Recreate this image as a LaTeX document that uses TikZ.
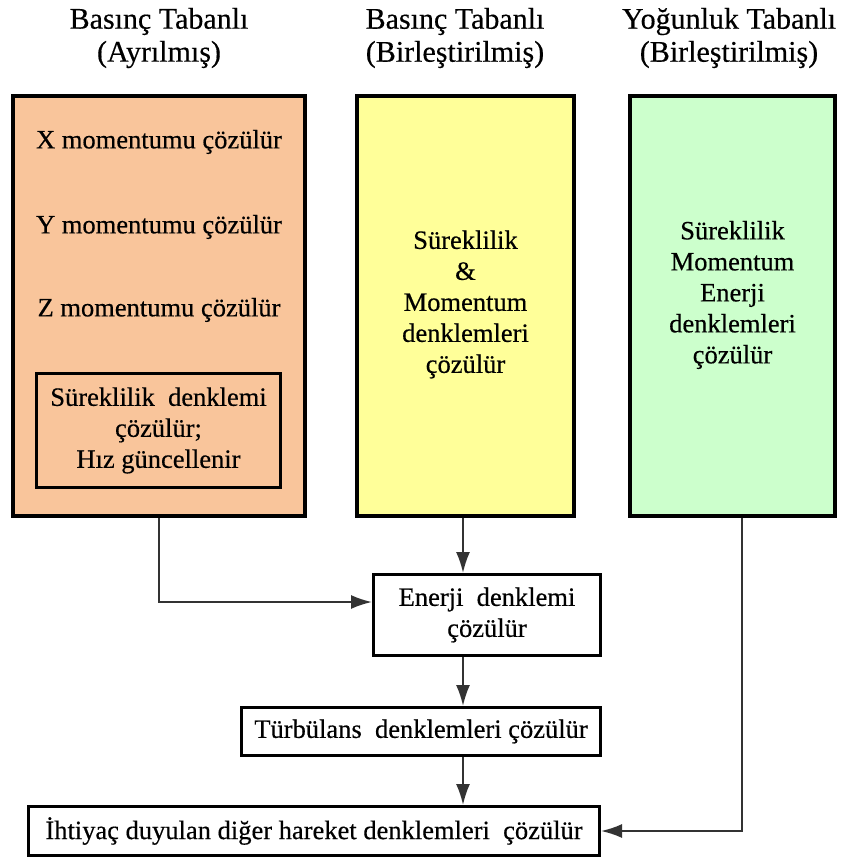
\documentclass[tikz,border=0pt]{standalone}
\usepackage{fontspec}
\setmainfont{Liberation Serif}
\newfontfamily\timesfam[FakeBold=0.4]{Liberation Serif}
\usetikzlibrary{arrows.meta}
\definecolor{peach}{HTML}{F9C59B}
\definecolor{paleyellow}{HTML}{FFFF99}
\definecolor{palegreen}{HTML}{CCFFCC}
\definecolor{linegray}{HTML}{333333}
\newcommand\bodyfnt{\timesfam\fontsize{26.5}{31}\selectfont}
\newcommand\titlefnt{\timesfam\fontsize{30}{33}\selectfont}
\tikzset{
  bigbox/.style={draw=black, line width=4.5pt, inner sep=0pt},
  smallbox/.style={draw=black, line width=3pt, fill=white, inner sep=0pt, align=center, font=\bodyfnt},
  txt/.style={align=center, inner sep=0pt, font=\bodyfnt},
  ttl/.style={align=center, inner sep=0pt, font=\titlefnt},
  conn/.style={draw=linegray, line width=2pt},
  arr/.style={conn, -{Latex[length=21pt,width=14pt]}},
}
\begin{document}
\begin{tikzpicture}[x=1pt,y=-1pt]
\useasboundingbox (0,0) rectangle (841,862);
% titles
\node[ttl] (t1) at (159,38) {Basınç Tabanlı\\(Ayrılmış)};
\node[ttl] (t2) at (455,38) {Basınç Tabanlı\\(Birleştirilmiş)};
\node[ttl] (t3) at (729,38) {Yoğunluk Tabanlı\\(Birleştirilmiş)};
% big boxes
\node[bigbox, fill=peach, minimum width=292pt, minimum height=420pt] (left) at (159,306) {};
\node[bigbox, fill=paleyellow, minimum width=217pt, minimum height=420pt] (mid) at (465.5,306) {};
\node[bigbox, fill=palegreen, minimum width=205pt, minimum height=420pt] (right) at (732.5,306) {};
% left box contents
\node[txt] (xm) at (159,142) {X momentumu çözülür};
\node[txt] (ym) at (159,227) {Y momentumu çözülür};
\node[txt] (zm) at (159,310) {Z momentumu çözülür};
\node[smallbox, fill=none, minimum width=244pt, minimum height=114pt] (cont) at (158.5,430.5)
  {Süreklilik\ \ denklemi\\çözülür;\\Hız güncellenir};
% middle and right contents
\node[txt] (midtxt) at (465.5,304.5) {Süreklilik\\\&\\Momentum\\denklemleri\\çözülür};
\node[txt] (righttxt) at (732.5,295) {Süreklilik\\Momentum\\Enerji\\denklemleri\\çözülür};
% lower boxes
\node[smallbox, minimum width=227pt, minimum height=81pt] (energy) at (487,615)
  {Enerji\ \ denklemi\\çözülür};
\node[smallbox, minimum width=359pt, minimum height=48pt] (turb) at (421,731.5)
  {Türbülans\ \ denklemleri\ çözülür};
\node[smallbox, minimum width=571pt, minimum height=49pt] (bottom) at (314,831)
  {İhtiyaç duyulan diğer hareket denklemleri\ \ çözülür};
% columns
\coordinate (col) at (463,0);
\coordinate (gcol) at (742,0);
% connectors
\draw[arr] (left.south) |- ([yshift=13pt]energy.west);
\draw[arr] (col |- mid.south) -- (col |- energy.north);
\draw[arr] (col |- energy.south) -- (col |- turb.north);
\draw[arr] (col |- turb.south) -- (col |- bottom.north);
\draw[arr] (gcol |- right.south) |- (bottom.east);
\end{tikzpicture}
\end{document}
